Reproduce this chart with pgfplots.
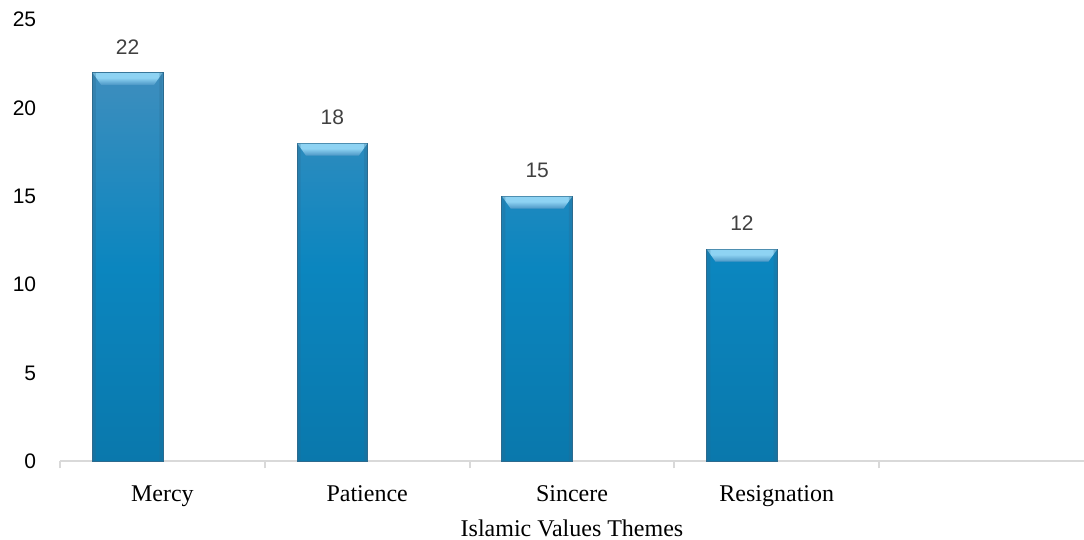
\documentclass[border=0pt]{standalone}
\usepackage{fontspec}
\setmainfont{Liberation Serif}
\newfontfamily\arialf{Liberation Sans}
\usepackage{pgfplots}
\pgfplotsset{compat=1.18}
\definecolor{barTop}{HTML}{3E8EBE}
\definecolor{barMid}{HTML}{0B86BF}
\definecolor{barBot}{HTML}{0A78AC}
\definecolor{bevelTop}{HTML}{8ED3F3}
\definecolor{bevelBot}{HTML}{4A95C4}
\definecolor{bevelEdge}{HTML}{5EA4CD}
\definecolor{barEdge}{HTML}{2C6A8E}
\definecolor{axisgray}{HTML}{D9D9D9}
\definecolor{lblgray}{HTML}{404040}
\pgfdeclareverticalshading{bevelshade}{100bp}{color(0bp)=(bevelBot); color(25bp)=(bevelBot); color(55bp)=(bevelTop); color(75bp)=(bevelTop); color(100bp)=(bevelEdge)}
\pgfdeclareplotmark{bevel}{%
  \pgfpathmoveto{\pgfqpoint{-17.45pt}{-0.2pt}}%
  \pgfpathlineto{\pgfqpoint{17.45pt}{-0.2pt}}%
  \pgfpathlineto{\pgfqpoint{13.2pt}{-6.2pt}}%
  \pgfpathlineto{\pgfqpoint{-13.2pt}{-6.2pt}}%
  \pgfpathclose
  \pgfshadepath{bevelshade}{0}%
  \pgfusepath{discard}%
  \pgfsetfillcolor{barEdge}\pgfsetfillopacity{0.3}%
  \pgfpathrectangle{\pgfqpoint{-17.45pt}{-0.2pt}}{\pgfpoint{1.6pt}{-\rawy*8.84pt+0.4pt}}%
  \pgfpathrectangle{\pgfqpoint{15.85pt}{-0.2pt}}{\pgfpoint{1.6pt}{-\rawy*8.84pt+0.4pt}}%
  \pgfusepath{fill}%
}
\begin{document}
\begin{tikzpicture}
\begin{axis}[
  scale only axis, width=512pt, height=221pt,
  xmin=0, xmax=5, ymin=0, ymax=25,
  axis x line*=bottom, axis y line*=left,
  y axis line style={draw=none},
  x axis line style={draw=axisgray, line width=1pt},
  ytick={0,5,...,25}, ytick style={draw=none},
  xtick={0,1,2,3,4}, xticklabels={},
  xtick style={draw=axisgray, line width=1pt},
  tick align=outside, major tick length=3.4pt,
  extra x ticks={0.5,1.5,2.5,3.5},
  extra x tick labels={Mercy,Patience,Sincere,Resignation},
  extra x tick style={major tick length=0pt, tick style={draw=none}},
  xticklabel style={font=\fontsize{12}{14.4}\selectfont, text=black, yshift=-8.5pt},
  yticklabel style={font=\arialf\fontsize{10.5}{12}\selectfont, text=black, xshift=-5pt},
  /pgf/number format/assume math mode=true,
  xlabel={Islamic Values Themes},
  xlabel style={font=\fontsize{12}{14.4}\selectfont, yshift=3.5pt},
]
\addplot[ybar, bar width=0.345, draw=barEdge, line width=0.4pt,
  top color=barTop, bottom color=barBot, middle color=barMid,
  nodes near coords,
  nodes near coords style={font=\arialf\fontsize{10.5}{12}\selectfont, text=lblgray, anchor=base, yshift=9.25pt}]
  coordinates {(0.33,22) (1.33,18) (2.33,15) (3.33,12)};
\addplot[scatter, only marks, mark=bevel, scatter/use mapped color={draw=none, fill=none},
  visualization depends on={rawy \as \rawy}]
  coordinates {(0.33,22) (1.33,18) (2.33,15) (3.33,12)};
\end{axis}
\pgfresetboundingbox
\path[use as bounding box] (-30pt,-39pt) rectangle (512pt,230.75pt);
\end{tikzpicture}
\end{document}
